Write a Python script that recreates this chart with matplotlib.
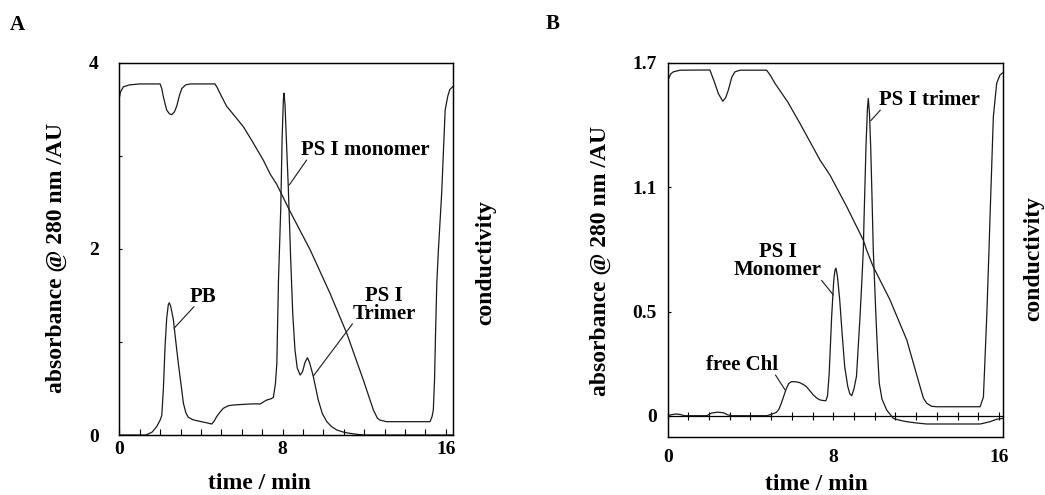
import matplotlib
matplotlib.use('Agg')
import matplotlib.pyplot as plt

plt.rcParams['font.family'] = ['Liberation Serif', 'DejaVu Serif']
plt.rcParams['font.weight'] = 'bold'
plt.rcParams['axes.labelweight'] = 'bold'

# panel A: absorbance trace (time / min, AU)
a_abs_t = [0.0, 1.3, 1.6, 1.83, 2.0, 2.08, 2.16, 2.24, 2.32, 2.4, 2.45, 2.52, 2.65, 2.77, 2.89,
           3.02, 3.14, 3.26, 3.38, 3.6, 3.79, 4.2, 4.53, 4.65, 4.77, 4.95, 5.1, 5.35, 5.59, 6.0,
           6.41, 6.7, 6.9, 7.1, 7.23, 7.45, 7.55, 7.65, 7.72, 7.8, 7.91, 7.98, 8.04, 8.07, 8.12,
           8.2, 8.28, 8.4, 8.5, 8.61, 8.72, 8.86, 8.98, 9.1, 9.22, 9.32, 9.42, 9.51, 9.63, 9.75,
           9.95, 10.17, 10.4, 10.66, 11.0, 11.3, 11.7, 12.0, 16.37]
a_abs_v = [0.0, 0.0, 0.03, 0.09, 0.16, 0.21, 0.5, 0.95, 1.25, 1.4, 1.42, 1.38, 1.235, 1.0, 0.77,
           0.55, 0.34, 0.24, 0.19, 0.165, 0.154, 0.135, 0.118, 0.15, 0.197, 0.25, 0.287, 0.315, 0.322, 0.328,
           0.333, 0.335, 0.333, 0.36, 0.376, 0.39, 0.405, 0.55, 0.77, 1.66, 2.42, 3.2, 3.6, 3.67, 3.55,
           3.1, 2.67, 1.88, 1.3, 0.91, 0.72, 0.644, 0.68, 0.78, 0.83, 0.78, 0.7, 0.626, 0.5, 0.376,
           0.23, 0.143, 0.09, 0.054, 0.03, 0.018, 0.006, 0.0, 0.0]

# panel A: conductivity trace (drawn on the same scale)
a_cond_t = [0.0, 0.05, 0.2, 0.5, 1.0, 2.0, 2.08, 2.16, 2.32, 2.45, 2.57, 2.7, 2.81, 2.95, 3.06,
            3.25, 3.47, 4.69, 4.8, 5.0, 5.26, 5.6, 6.08, 6.5, 7.06, 7.4, 7.72, 8.37, 9.35, 10.33,
            11.15, 11.96, 12.45, 12.65, 12.78, 13.1, 15.23, 15.33, 15.39, 15.45, 15.5, 15.56, 15.64,
            15.8, 15.97, 16.1, 16.2, 16.34]
a_cond_v = [3.62, 3.68, 3.74, 3.76, 3.77, 3.77, 3.72, 3.63, 3.49, 3.45, 3.44, 3.47, 3.53, 3.65, 3.72,
            3.76, 3.77, 3.77, 3.73, 3.64, 3.53, 3.44, 3.31, 3.16, 2.95, 2.8, 2.69, 2.40, 1.99, 1.52,
            1.09, 0.59, 0.27, 0.18, 0.16, 0.143, 0.143, 0.2, 0.27, 0.6, 1.1, 1.63, 1.99,
            2.6, 3.49, 3.64, 3.71, 3.74]

# panel B: absorbance trace
b_abs_t = [0.0, 0.2, 0.4, 0.6, 0.8, 1.9, 2.1, 2.4, 2.7, 2.9, 3.1, 4.8, 5.0, 5.25, 5.37, 5.49,
           5.61, 5.73, 5.85, 5.98, 6.2, 6.38, 6.55, 6.7, 6.87, 7.03, 7.2, 7.35, 7.5, 7.64, 7.72,
           7.8, 7.92, 8.02, 8.08, 8.13, 8.2, 8.31, 8.43, 8.55, 8.7, 8.8, 8.89, 9.0, 9.12, 9.29,
           9.38, 9.45, 9.48, 9.58, 9.65, 9.69, 9.75, 9.81, 9.87, 9.93, 10.06, 10.14, 10.22, 10.35,
           10.58, 10.9, 11.2, 11.55, 12.0, 12.5, 15.1, 15.4, 15.57, 15.9, 16.2]
b_abs_v = [0.0, 0.005, 0.008, 0.006, 0.0, 0.0, 0.012, 0.017, 0.014, 0.004, 0.0, 0.0, 0.006, 0.016, 0.03, 0.06,
           0.095, 0.13, 0.155, 0.164, 0.163, 0.159, 0.15, 0.14, 0.12, 0.10, 0.085, 0.076, 0.073, 0.072, 0.095,
           0.2, 0.476, 0.65, 0.7, 0.71, 0.67, 0.557, 0.39, 0.236, 0.14, 0.105, 0.096, 0.13, 0.19, 0.476,
           0.65, 0.8, 0.93, 1.3, 1.48, 1.527, 1.45, 1.28, 1.05, 0.8, 0.476, 0.3, 0.156, 0.08,
           0.027, -0.013, -0.022, -0.029, -0.035, -0.04, -0.04, -0.033, -0.029, -0.017, -0.013]

# panel B: conductivity trace
b_cond_t = [0.0, 0.03, 0.15, 0.27, 0.6, 2.04, 2.15, 2.28, 2.45, 2.66, 2.8, 2.93, 3.1, 3.25, 3.5,
            4.78, 4.95, 5.18, 5.8, 6.39, 7.36, 7.84, 8.65, 9.45, 9.61, 9.93, 10.74, 11.55, 12.19,
            12.35, 12.51, 12.75, 13.0, 15.09, 15.25, 15.41, 15.52, 15.57, 15.73, 15.89, 16.05, 16.18]
b_cond_v = [1.60, 1.619, 1.645, 1.655, 1.663, 1.664, 1.635, 1.60, 1.55, 1.514, 1.53, 1.567, 1.63, 1.655, 1.663,
            1.663, 1.64, 1.60, 1.51, 1.407, 1.23, 1.158, 1.006, 0.845, 0.797, 0.717, 0.557, 0.364, 0.14,
            0.085, 0.06, 0.045, 0.043, 0.043, 0.09, 0.476, 0.8, 0.96, 1.44, 1.6, 1.64, 1.65]

a_yticks = [0, 2, 4]
b_yticks = [0, 0.5, 1.1, 1.7]
b_yticklabels = ['0', '0.5', '1.1', '1.7']
x_ticks = [0, 8, 16]
minute_ticks = list(range(17))

ylab = 'absorbance @ 280 nm /AU'
xlab = 'time / min'
lc = '#1a1a1a'

fig = plt.figure(figsize=(10.45, 4.95), dpi=100)
ax_a = fig.add_axes([0.1142, 0.1212, 0.3196, 0.7525])
ax_b = fig.add_axes([0.6389, 0.1166, 0.3206, 0.7571])


def leader(ax, text, xy, xytext, relpos, ls=1.0):
    ax.annotate(text, xy=xy, xytext=xytext, ha='center', va='center', fontsize=15,
                linespacing=ls, annotation_clip=False,
                arrowprops=dict(arrowstyle='-', lw=0.8, color=lc, patchA=None,
                                shrinkA=0, shrinkB=0, relpos=relpos))


# ---- panel A ----
ax = ax_a
ax.plot(a_abs_t, a_abs_v, color=lc, lw=0.9)
ax.set_xlim(0, 16.37)
ax.set_ylim(0, 4)
ax.set_xticks(x_ticks)
ax.set_xticks(minute_ticks, minor=True)
ax.set_yticks(a_yticks)
ax.set_yticks([1, 3], minor=True)
ax.tick_params(axis='x', which='both', direction='in', length=4, width=0.8, pad=4.5, labelsize=14)
ax.tick_params(axis='y', which='both', direction='in', length=2.5, width=0.8, pad=15, labelsize=14)
ax.set_ylabel(ylab, fontsize=17, va='center')
ax.yaxis.set_label_coords(-0.1895, 0.475)
ax.set_xlabel(xlab, fontsize=17, va='center')
ax.xaxis.set_label_coords(0.418, -0.129)
tw = ax.twinx()
tw.plot(a_cond_t, a_cond_v, color=lc, lw=0.9)
tw.set_ylim(ax.get_ylim())
tw.set_yticks([])
tw.set_ylabel('conductivity', fontsize=17, va='center', rotation=90)
tw.yaxis.set_label_coords(1.098, 0.462)
for a in (ax, tw):
    for s in a.spines.values():
        s.set_linewidth(0.9)
leader(ax, 'PB', (2.68, 1.146), (4.12, 1.486), (0.15, 0.0))
leader(ax, 'PS I monomer', (8.33, 2.685), (12.08, 3.06), (0.04, 0.0))
leader(ax, 'PS I\nTrimer', (9.51, 0.634), (12.98, 1.396), (0.0, 0.0), ls=0.85)

# ---- panel B ----
ax = ax_b
ax.plot(b_abs_t, b_abs_v, color=lc, lw=0.9)
ax.set_xlim(0, 16.18)
ax.set_ylim(-0.104, 1.7)
ax.set_xticks(x_ticks)
ax.set_yticks(b_yticks)
ax.set_yticklabels(b_yticklabels)
ax.tick_params(axis='x', length=0, pad=8.5, labelsize=14)
ax.tick_params(axis='y', direction='in', length=2.5, width=0.8, pad=8, labelsize=14)
# zero baseline with minute ticks
zero = ax.secondary_xaxis(0.104 / 1.804)
zero.set_xticks(minute_ticks)
zero.tick_params(direction='inout', length=6, width=0.8, labelbottom=False)
zero.spines['bottom'].set_linewidth(0.9)
ax.set_ylabel(ylab, fontsize=17, va='center')
ax.yaxis.set_label_coords(-0.202, 0.470)
ax.set_xlabel(xlab, fontsize=17, va='center')
ax.xaxis.set_label_coords(0.443, -0.125)
tw = ax.twinx()
tw.plot(b_cond_t, b_cond_v, color=lc, lw=0.9)
tw.set_ylim(ax.get_ylim())
tw.set_yticks([])
tw.set_ylabel('conductivity', fontsize=17, va='center', rotation=90)
tw.yaxis.set_label_coords(1.093, 0.478)
for a in (ax, tw):
    for s in a.spines.values():
        s.set_linewidth(0.9)
leader(ax, 'PS I trimer', (9.81, 1.42), (12.66, 1.519), (0.01, 0.0))
leader(ax, 'PS I\nMonomer', (8.0, 0.581), (5.31, 0.744), (1.0, 0.0), ls=0.9)
leader(ax, 'free Chl', (5.67, 0.124), (3.57, 0.244), (0.97, 0.0))

fig.text(17.5 / 1045, 1 - 24.5 / 495, 'A', ha='center', va='center', fontsize=15)
fig.text(552.5 / 1045, 1 - 24 / 495, 'B', ha='center', va='center', fontsize=15)

fig.savefig('out.png', dpi=100)
